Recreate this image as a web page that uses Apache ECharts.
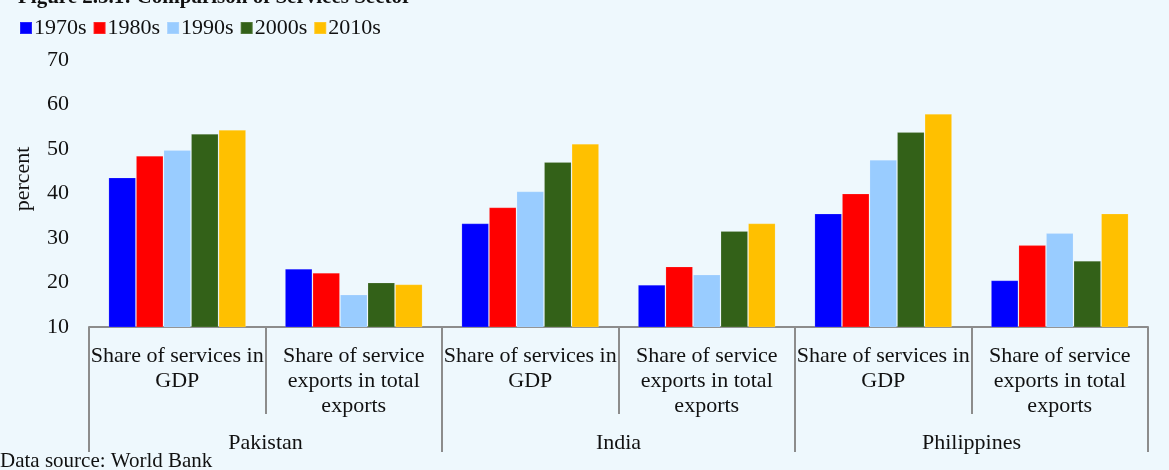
<!DOCTYPE html>
<html>
<head>
<meta charset="utf-8">
<script src="https://cdn.jsdelivr.net/npm/echarts@6/dist/echarts.min.js"></script>
<style>
html,body{margin:0;padding:0;background:#EEF8FD;}
#c{width:1169px;height:470px;}
</style>
</head>
<body>
<div id="c"></div>
<script>
const categoryLabels = [
  'Share of services in\nGDP',
  'Share of service\nexports in total\nexports',
  'Share of services in\nGDP',
  'Share of service\nexports in total\nexports',
  'Share of services in\nGDP',
  'Share of service\nexports in total\nexports'
];
const countries = ['Pakistan', 'India', 'Philippines'];
const seriesNames = ['1970s', '1980s', '1990s', '2000s', '2010s'];
const v1970s = [43.6, 23.1, 33.3, 19.5, 35.5, 20.5];
const v1980s = [48.5, 22.2, 36.9, 23.6, 40.0, 28.4];
const v1990s = [49.8, 17.3, 40.5, 21.8, 47.6, 31.1];
const v2000s = [53.4, 20.0, 47.1, 31.6, 53.8, 24.9];
const v2010s = [54.3, 19.6, 51.2, 33.3, 57.9, 35.5];
const colors = ['#0000FF', '#FF0000', '#99CCFF', '#336118', '#FFC000'];
const titleText = 'Figure 2.5.1: Comparison of Services Sector';
const yName = 'percent';
const sourceText = 'Data source: World Bank';

const FONT = '"Liberation Serif", "Times New Roman", serif';
const values = [v1970s, v1980s, v1990s, v2000s, v2010s];

const chart = echarts.init(document.getElementById('c'), null, {renderer: 'canvas'});
chart.setOption({
  backgroundColor: '#EEF8FD',
  animation: false,
  color: colors,
  grid: {left: 89, right: 21, top: 60, bottom: 143, containLabel: false},
  legend: {
    left: 19, top: 17,
    icon: 'rect', itemWidth: 12, itemHeight: 12, itemGap: 6,
    padding: 0,
    textStyle: {fontFamily: FONT, fontSize: 22, color: '#111', padding: [0, 0, 0, -3]},
    data: seriesNames
  },
  graphic: [
    {type: 'text', left: 18, top: -13, style: {text: titleText, font: 'bold 21px ' + FONT, fill: '#111'}},
    {type: 'text', x: 23, y: 179, rotation: Math.PI / 2,
     style: {text: yName, font: '22px ' + FONT, fill: '#111', align: 'center', verticalAlign: 'middle'}},
    {type: 'text', left: 0, top: 451, style: {text: sourceText, font: '21px ' + FONT, fill: '#111'}}
  ],
  xAxis: [
    {
      type: 'category', position: 'bottom', data: categoryLabels,
      axisLine: {show: true, lineStyle: {color: '#8c8c8c', width: 2}},
      axisTick: {show: true, length: 87, interval: 0, lineStyle: {color: '#8c8c8c', width: 2}},
      axisLabel: {interval: 0, margin: 17, fontFamily: FONT, fontSize: 22, lineHeight: 25, color: '#111'}
    },
    {
      type: 'category', position: 'bottom', data: countries,
      axisLine: {show: false},
      axisTick: {show: true, length: 125, interval: 0, lineStyle: {color: '#8c8c8c', width: 2}},
      axisLabel: {interval: 0, margin: 104, fontFamily: FONT, fontSize: 22, lineHeight: 24, color: '#111'}
    }
  ],
  yAxis: {
    type: 'value', min: 10, max: 70, interval: 10,
    axisLine: {show: false}, axisTick: {show: false}, splitLine: {show: false},
    axisLabel: {margin: 20, fontFamily: FONT, fontSize: 22, color: '#111'}
  },
  series: seriesNames.map((n, i) => ({
    name: n, type: 'bar', xAxisIndex: 0, data: values[i],
    barGap: '0%', barCategoryGap: '22%',
    itemStyle: {color: colors[i], borderColor: 'rgba(255,255,255,0.15)', borderWidth: 1}
  }))
});
</script>
</body>
</html>
